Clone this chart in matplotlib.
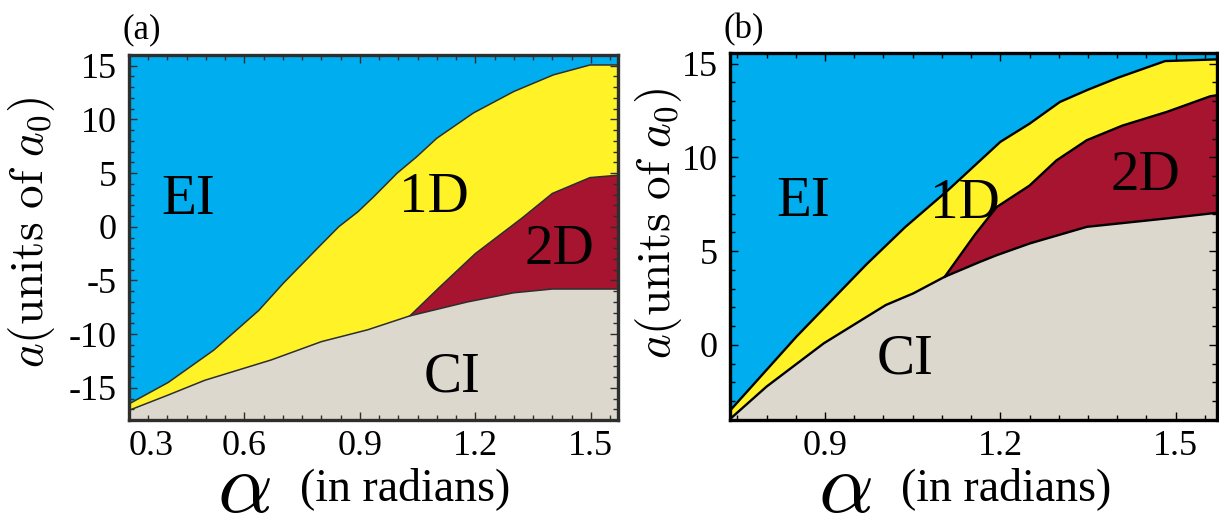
import numpy as np
import matplotlib
matplotlib.use("Agg")
import matplotlib.pyplot as plt
from matplotlib.ticker import MultipleLocator, FixedLocator

plt.rcParams['font.family'] = ['Liberation Serif', 'DejaVu Serif']
plt.rcParams['mathtext.fontset'] = 'cm'
plt.rcParams['axes.unicode_minus'] = False

HALF_PI = np.pi / 2

# ---- panel (a): phase boundaries, alpha in radians vs a in units of a0 ----
a_upper_x = [0.30, 0.402, 0.52, 0.637, 0.70, 0.794, 0.845, 0.895, 0.936, 0.997,
             1.047, 1.10, 1.195, 1.30, 1.403, 1.498, HALF_PI]
a_upper_y = [-16.5, -14.5, -11.5, -7.8, -5.3, -1.85, 0.0, 1.4, 2.8, 5.0,
             6.5, 8.25, 10.6, 12.6, 14.15, 15.07, 15.07]
a_lower_x = [0.30, 0.40, 0.497, 0.67, 0.80, 0.92, 1.03, 1.18, 1.30, 1.40, HALF_PI]
a_lower_y = [-17.1, -15.7, -14.3, -12.4, -10.7, -9.6, -8.3, -7.0, -6.15, -5.8, -5.8]
a_mid_x = [1.03, 1.108, 1.20, 1.321, 1.40, 1.453, 1.498, HALF_PI]
a_mid_y = [-8.3, -5.6, -2.5, 0.8, 3.1, 3.9, 4.58, 4.8]

# ---- panel (b) ----
b_upper_x = [0.7375, 0.851, 0.971, 1.037, 1.11, 1.20, 1.25, 1.302, 1.349, 1.402,
             1.482, HALF_PI]
b_upper_y = [-3.5, 0.44, 4.3, 6.28, 8.24, 10.83, 11.8, 12.96, 13.6, 14.26,
             15.14, 15.23]
b_lower_x = [0.7375, 0.80, 0.898, 1.004, 1.051, 1.105, 1.165, 1.194, 1.251,
             1.348, 1.485, HALF_PI]
b_lower_y = [-3.95, -2.22, 0.09, 2.13, 2.75, 3.64, 4.43, 4.79, 5.42,
             6.3, 6.75, 7.05]
b_mid_x = [1.105, 1.157, 1.194, 1.25, 1.296, 1.348, 1.409, 1.485, 1.559, HALF_PI]
b_mid_y = [3.64, 5.9, 7.36, 8.5, 9.84, 10.92, 11.7, 12.43, 13.26, 13.32]

BLUE = '#00AEEF'
YELLOW = '#FFF226'
RED = '#A61430'
BEIGE = '#DDD8CD'


def draw_phases(ax, ux, uy, lx, ly, mx, my, ylim, edge, lw):
    x0, x1 = ux[0], ux[-1]
    ax.set_facecolor(BLUE)
    lx, ly, mx, my = map(np.asarray, (lx, ly, mx, my))
    j = mx[0]
    before = lx <= j
    after = lx >= j
    # 1D strip: upper edge, then middle (reversed), then lower part up to junction
    px = list(ux) + list(mx[::-1]) + list(lx[before][::-1])
    py = list(uy) + list(my[::-1]) + list(ly[before][::-1])
    ax.fill(px, py, color=YELLOW, lw=0, zorder=1)
    # 2D region
    px = list(mx) + list(lx[after][::-1])
    py = list(my) + list(ly[after][::-1])
    ax.fill(px, py, color=RED, lw=0, zorder=1)
    # CI region below the lower boundary
    px = list(lx) + [x1, x0]
    py = list(ly) + [ylim[0] - 1, ylim[0] - 1]
    ax.fill(px, py, color=BEIGE, lw=0, zorder=1)
    for xs, ys in ((ux, uy), (lx, ly), (mx, my)):
        ax.plot(xs, ys, color=edge, lw=lw, zorder=2)
    ax.set_xlim(x0, x1)
    ax.set_ylim(*ylim)


def style_axes(ax, frame, fw):
    for s in ax.spines.values():
        s.set_color(frame)
        s.set_linewidth(fw)
        s.set_zorder(5)
    ax.tick_params(which='both', direction='in', top=True, right=True,
                   color=frame, labelsize=26, width=1.0)
    ax.tick_params(which='major', length=6, pad=9)
    ax.tick_params(which='minor', length=3.5)
    ax.tick_params(axis='x', which='major', pad=7)
    ax.xaxis.set_minor_locator(MultipleLocator(0.05))
    ax.yaxis.set_minor_locator(MultipleLocator(1))
    ax.yaxis.set_major_formatter(plt.FuncFormatter(lambda v, p: f'{v:.0f}'))
    ax.xaxis.set_major_formatter(plt.FuncFormatter(lambda v, p: f'{v:.1f}'))


fig = plt.figure(figsize=(12.19, 5.2), dpi=100)
W, H = 1219.0, 520.0

ax1 = fig.add_axes([129 / W, 1 - 420 / H, 489 / W, 365 / H])
ax2 = fig.add_axes([730 / W, 1 - 420 / H, 487 / W, 367 / H])

draw_phases(ax1, a_upper_x, a_upper_y, a_lower_x, a_lower_y, a_mid_x, a_mid_y,
            (-18, 16), '#2e2e2e', 1.1)
draw_phases(ax2, b_upper_x, b_upper_y, b_lower_x, b_lower_y, b_mid_x, b_mid_y,
            (-4, 15.57), 'black', 1.7)

style_axes(ax1, '#2e2e2e', 2.4)
style_axes(ax2, 'black', 2.4)

ax1.xaxis.set_major_locator(FixedLocator([0.3, 0.6, 0.9, 1.2, 1.5]))
ax1.yaxis.set_major_locator(FixedLocator([-15, -10, -5, 0, 5, 10, 15]))
ax2.xaxis.set_major_locator(FixedLocator([0.9, 1.2, 1.5]))
ax2.yaxis.set_major_locator(FixedLocator([0, 5, 10, 15]))
fig.canvas.draw()
ax1.get_xticklabels()[0].set_horizontalalignment('left')

# phase names
lab = dict(fontsize=41, ha='center', va='center', zorder=4)
ax1.text(0.454, 2.5, 'EI', **lab)
ax1.text(1.093, 2.7, '1D', **lab)
ax1.text(1.418, -2.2, '2D', **lab)
ax1.text(1.139, -14.0, 'CI', **lab)
ax2.text(0.862, 7.6, 'EI', **lab)
ax2.text(1.14, 7.5, '1D', **lab)
ax2.text(1.448, 9.0, '2D', **lab)
ax2.text(1.037, -0.75, 'CI', **lab)

# axis titles, placed in figure pixels
ylab = r'$a\mathrm{(units\ of\ }a_0\mathrm{)}$'
for cx, cy in ((32, 232), (659, 223)):
    fig.text(cx / W, 1 - cy / H, ylab, fontsize=34, rotation=90,
             ha='center', va='center', rotation_mode='anchor')

for left in (129, 730):
    fig.text((left + 115) / W, 1 - 512 / H, r'$\alpha$', fontsize=62,
             ha='center', va='baseline')
    fig.text((left + 171) / W, 1 - 500 / H, '(in radians)', fontsize=33,
             ha='left', va='baseline')

fig.text(142 / W, 1 - 30 / H, '(a)', fontsize=25, ha='center', va='center')
fig.text(744 / W, 1 - 30 / H, '(b)', fontsize=25, ha='center', va='center')

fig.savefig('out.png', dpi=100)
